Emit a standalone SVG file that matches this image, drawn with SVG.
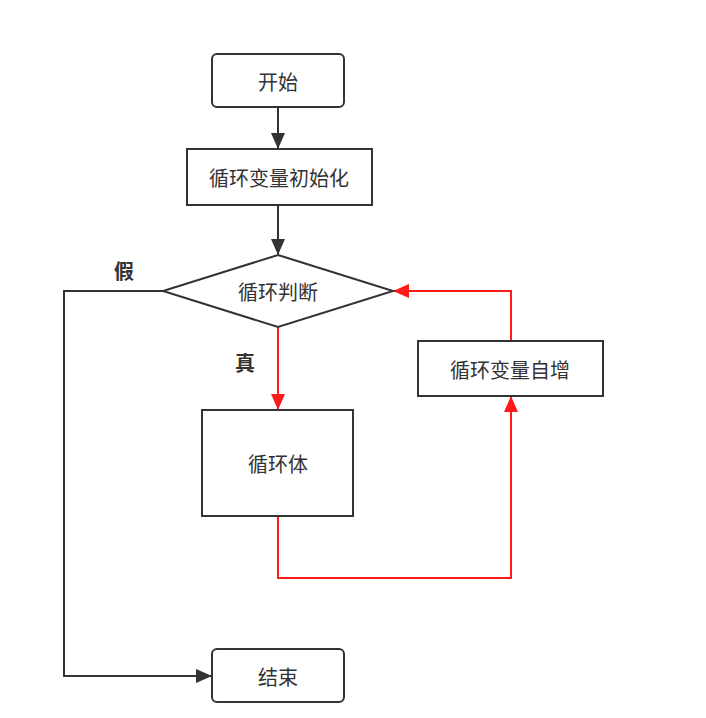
<svg xmlns="http://www.w3.org/2000/svg" width="706" height="718" viewBox="0 0 706 718">
<style>
.box{fill:#fff;stroke:#333;stroke-width:2}
.t{font-family:"Noto Sans CJK SC","Noto Sans",sans-serif;font-size:20px;fill:#333;text-anchor:middle;dominant-baseline:central}
.b{font-family:"Noto Sans CJK SC","Noto Sans",sans-serif;font-size:20px;font-weight:bold;fill:#333;text-anchor:middle;dominant-baseline:central}
.k{fill:none;stroke:#333;stroke-width:2}
.r{fill:none;stroke:#ff1a1a;stroke-width:2}
</style>
<defs>
<marker id="ak" markerUnits="userSpaceOnUse" markerWidth="16" markerHeight="16" viewBox="0 0 16 16" refX="15" refY="8" orient="auto"><path d="M0,1 L16,8 L0,15 Z" fill="#333"/></marker>
<marker id="ar" markerUnits="userSpaceOnUse" markerWidth="16" markerHeight="16" viewBox="0 0 16 16" refX="15" refY="8" orient="auto"><path d="M0,1 L16,8 L0,15 Z" fill="#ff1a1a"/></marker>
</defs>
<rect width="706" height="718" fill="#fff"/>
<g id="connectors">
<path class="k" d="M278,107 V148" marker-end="url(#ak)"/>
<path class="k" d="M278,205 V254" marker-end="url(#ak)"/>
<path class="k" d="M163,291 H64 V676 H211" marker-end="url(#ak)"/>
<path class="r" d="M278,327 V409" marker-end="url(#ar)"/>
<path class="r" d="M278,516 V578 H511 V397" marker-end="url(#ar)"/>
<path class="r" d="M511,341 V291 H394" marker-end="url(#ar)"/>
<text class="b" x="124" y="270">假</text>
<text class="b" x="245" y="362">真</text>
</g>
<g id="start">
<rect class="box" x="212" y="54" width="132" height="53" rx="5"/>
<text class="t" x="278" y="81">开始</text>
</g>
<g id="init">
<rect class="box" x="187" y="149" width="185" height="56"/>
<text class="t" x="279" y="177">循环变量初始化</text>
</g>
<g id="cond">
<polygon class="box" points="278,255 393,291 278,327 163,291"/>
<text class="t" x="278" y="291">循环判断</text>
</g>
<g id="body">
<rect class="box" x="202" y="410" width="151" height="106"/>
<text class="t" x="278" y="463">循环体</text>
</g>
<g id="incr">
<rect class="box" x="418" y="341" width="185" height="55"/>
<text class="t" x="510" y="369">循环变量自增</text>
</g>
<g id="end">
<rect class="box" x="212" y="649" width="132" height="53" rx="5"/>
<text class="t" x="278" y="676">结束</text>
</g>
</svg>
